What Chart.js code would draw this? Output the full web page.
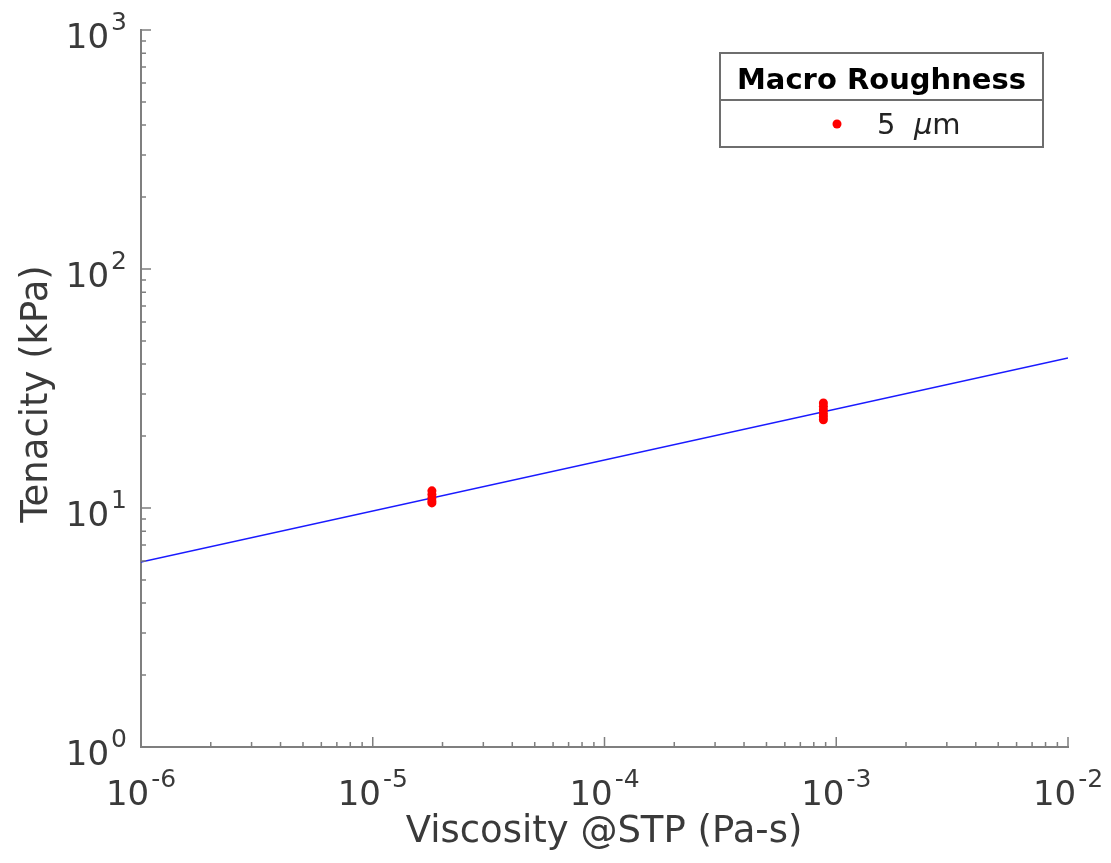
<!DOCTYPE html>
<html lang="en">
<head>
  <meta charset="UTF-8">
  <title>Tenacity vs Viscosity</title>
  <script src="https://cdn.jsdelivr.net/npm/chart.js@4.4.1/dist/chart.umd.min.js"></script>
  <style>
    body {
      margin: 0;
      padding: 0;
      background-color: #fff;
    }
    #chart {
      display: block;
    }
  </style>
</head>
<body>
  <canvas id="chart" width="1111" height="863"></canvas>

  <script>
    // axis ranges (powers of ten)
    const xExps = [-6, -5, -4, -3, -2];
    const yExps = [0, 1, 2, 3];

    // fitted line end points
    const fitX = [1e-6, 1e-2];
    const fitY = [5.94, 42.4];

    // measured points, 5 um macro roughness
    const airX = 1.8e-5;
    const airY = [11.8, 11.4, 11.0, 10.7, 10.5];
    const waterX = 8.8e-4;
    const waterY = [27.5, 26.6, 25.7, 24.8, 24.1, 23.4];

    const legendTitle = 'Macro Roughness';
    const xTitle = 'Viscosity @STP (Pa-s)';
    const yTitle = 'Tenacity (kPa)';

    const axisColor = '#7f7f7f';
    const textColor = '#3a3a3a';
    const fontName = '"DejaVu Sans", sans-serif';

    const points = airY.map(y => ({ x: airX, y: y }))
      .concat(waterY.map(y => ({ x: waterX, y: y })));

    // draws ticks, 10^n labels, axis titles and the boxed legend
    const decorPlugin = {
      id: 'decor',
      afterDraw(chart) {
        const ctx = chart.ctx;
        const xs = chart.scales.x, ys = chart.scales.y;
        const ca = chart.chartArea;
        ctx.save();
        ctx.strokeStyle = axisColor;
        ctx.lineWidth = 1.5;

        // ticks pointing inward
        ctx.beginPath();
        xExps.forEach((e, i) => {
          const px = xs.getPixelForValue(Math.pow(10, e));
          ctx.moveTo(px, ca.bottom); ctx.lineTo(px, ca.bottom - 10);
          if (i < xExps.length - 1) {
            for (let m = 2; m <= 9; m++) {
              const mx = xs.getPixelForValue(m * Math.pow(10, e));
              ctx.moveTo(mx, ca.bottom); ctx.lineTo(mx, ca.bottom - 5);
            }
          }
        });
        yExps.forEach((e, i) => {
          const py = ys.getPixelForValue(Math.pow(10, e));
          ctx.moveTo(ca.left, py); ctx.lineTo(ca.left + 10, py);
          if (i < yExps.length - 1) {
            for (let m = 2; m <= 9; m++) {
              const my = ys.getPixelForValue(m * Math.pow(10, e));
              ctx.moveTo(ca.left, my); ctx.lineTo(ca.left + 5, my);
            }
          }
        });
        ctx.stroke();

        // tick labels with superscript exponents
        const baseFont = '34px ' + fontName;
        const expFont = '25px ' + fontName;
        ctx.fillStyle = textColor;
        ctx.textBaseline = 'alphabetic';
        ctx.textAlign = 'left';
        function label(e, x, y, align) {
          ctx.font = baseFont;
          const w1 = ctx.measureText('10').width;
          ctx.font = expFont;
          const expTxt = String(e);
          const w2 = ctx.measureText(expTxt).width;
          const total = w1 + 2 + w2;
          let x0 = align === 'center' ? x - total / 2 : x - total;
          ctx.font = baseFont;
          ctx.fillText('10', x0, y);
          ctx.font = expFont;
          ctx.fillText(expTxt, x0 + w1 + 2, y - 18);
        }
        xExps.forEach(e => label(e, xs.getPixelForValue(Math.pow(10, e)), ca.bottom + 58, 'center'));
        yExps.forEach(e => label(e, 127, ys.getPixelForValue(Math.pow(10, e)) + 18, 'right'));

        // axis titles
        ctx.font = '37px ' + fontName;
        ctx.textAlign = 'center';
        ctx.fillText(xTitle, 604, 842);
        ctx.save();
        ctx.translate(47, 394);
        ctx.rotate(-Math.PI / 2);
        ctx.fillText(yTitle, 0, 0);
        ctx.restore();

        // legend box
        const lx = 720, ly = 53, lw = 323, lh = 94, split = 100;
        ctx.fillStyle = '#fff';
        ctx.fillRect(lx, ly, lw, lh);
        ctx.strokeStyle = '#6e6e6e';
        ctx.lineWidth = 2;
        ctx.strokeRect(lx, ly, lw, lh);
        ctx.beginPath();
        ctx.moveTo(lx, split); ctx.lineTo(lx + lw, split);
        ctx.stroke();

        ctx.fillStyle = '#000';
        ctx.font = 'bold 29px ' + fontName;
        ctx.textAlign = 'center';
        ctx.fillText(legendTitle, lx + lw / 2, 89);

        const ds = chart.data.datasets[1];
        ctx.fillStyle = ds.backgroundColor;
        ctx.beginPath();
        ctx.arc(837, 124, 4.5, 0, Math.PI * 2);
        ctx.fill();

        // "5 μm" with italic mu
        ctx.fillStyle = '#222';
        ctx.textAlign = 'left';
        let tx = 877;
        const parts = [['5  ', '29px '], ['\u03bc', 'italic 29px '], ['m', '29px ']];
        parts.forEach(p => {
          ctx.font = p[1] + fontName;
          ctx.fillText(p[0], tx, 134);
          tx += ctx.measureText(p[0]).width;
        });
        ctx.restore();
      }
    };

    const ctx = document.getElementById('chart').getContext('2d');
    const chart = new Chart(ctx, {
      type: 'scatter',
      data: {
        datasets: [
          {
            label: 'fit',
            data: fitX.map((x, i) => ({ x: x, y: fitY[i] })),
            showLine: true,
            borderColor: '#1a1aff',
            borderWidth: 1.5,
            pointRadius: 0,
            order: 2
          },
          {
            label: '5 \u03bcm',
            data: points,
            backgroundColor: '#ff0000',
            borderWidth: 0,
            pointRadius: 4.5,
            order: 1
          }
        ]
      },
      options: {
        responsive: false,
        animation: false,
        layout: { padding: { left: 141, right: 43, top: 30, bottom: 116 } },
        plugins: {
          legend: { display: false },
          tooltip: { enabled: false }
        },
        scales: {
          x: {
            type: 'logarithmic',
            min: 1e-6,
            max: 1e-2,
            grid: { display: false, drawTicks: false },
            ticks: { display: false },
            border: { display: true, color: axisColor, width: 2 }
          },
          y: {
            type: 'logarithmic',
            min: 1,
            max: 1000,
            grid: { display: false, drawTicks: false },
            ticks: { display: false },
            border: { display: true, color: axisColor, width: 2 }
          }
        }
      },
      plugins: [decorPlugin]
    });
  </script>
</body>
</html>
